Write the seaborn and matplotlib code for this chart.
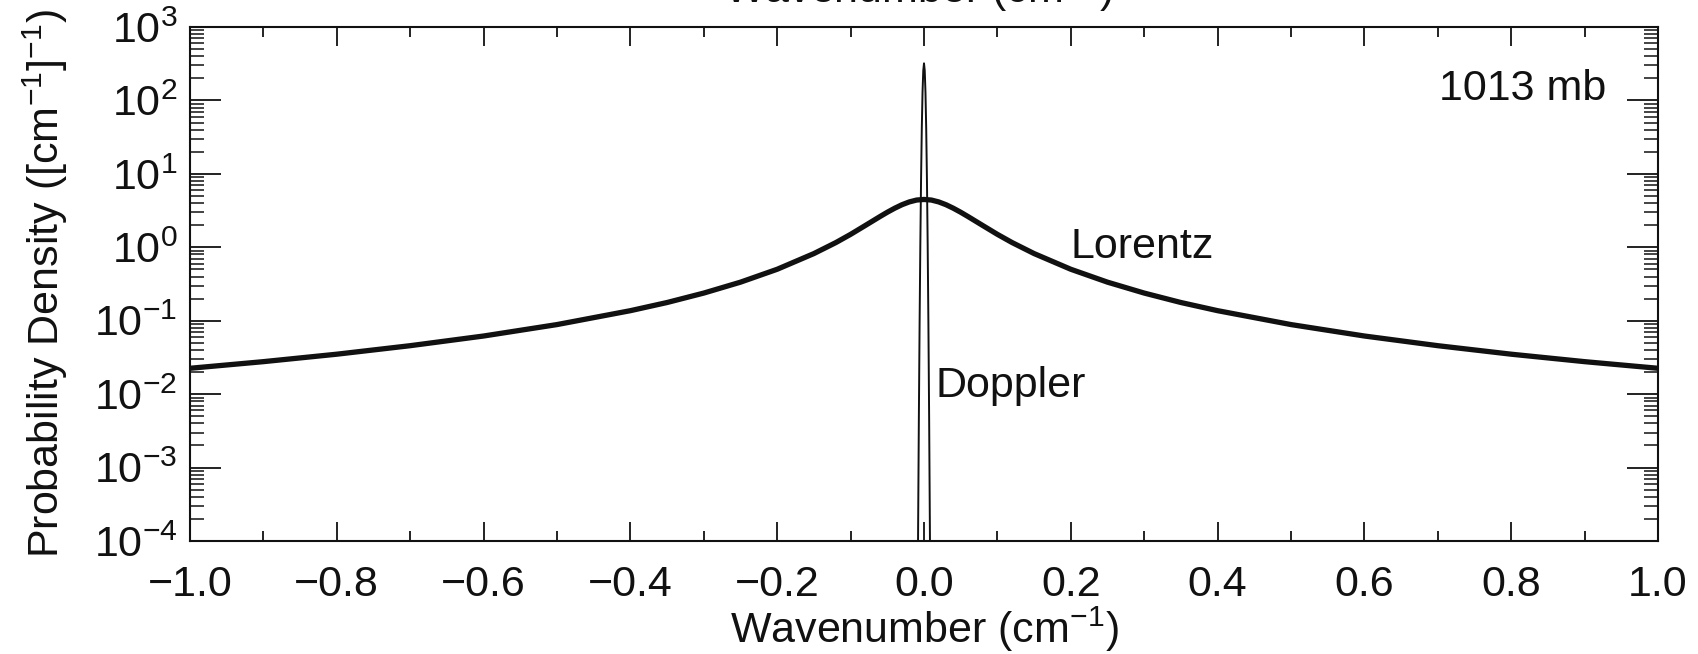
import numpy as np
import pandas as pd
import seaborn as sns
import matplotlib
matplotlib.use('Agg')
import matplotlib.pyplot as plt
from matplotlib.ticker import MultipleLocator, LogLocator, NullFormatter

# Line shape profiles at 1013 mb
lorentz_x = [-1.0, -0.9, -0.8, -0.7, -0.6, -0.5, -0.4, -0.35, -0.3, -0.25, -0.2,
             -0.15, -0.12, -0.1, -0.08, -0.06, -0.05, -0.04, -0.03, -0.02, -0.01,
             0.0, 0.01, 0.02, 0.03, 0.04, 0.05, 0.06, 0.08, 0.1, 0.12, 0.15,
             0.2, 0.25, 0.3, 0.35, 0.4, 0.5, 0.6, 0.7, 0.8, 0.9, 1.0]
lorentz_y = [0.0225, 0.0277, 0.0350, 0.0457, 0.0619, 0.0886, 0.137, 0.177, 0.238, 0.335, 0.502,
             0.821, 1.16, 1.50, 1.98, 2.62, 3.00, 3.40, 3.80, 4.15, 4.40,
             4.48, 4.40, 4.15, 3.80, 3.40, 3.00, 2.62, 1.98, 1.50, 1.16, 0.821,
             0.502, 0.335, 0.238, 0.177, 0.137, 0.0886, 0.0619, 0.0457, 0.0350, 0.0277, 0.0225]

doppler_x = [-0.009, -0.008, -0.007, -0.006, -0.005, -0.004, -0.003, -0.002, -0.001, 0.0,
             0.001, 0.002, 0.003, 0.004, 0.005, 0.006, 0.007, 0.008, 0.009]
doppler_y = [3.4e-6, 1.59e-4, 4.77e-3, 0.0912, 1.10, 8.5, 41.6, 129.0, 255.0, 320.0,
             255.0, 129.0, 41.6, 8.5, 1.10, 0.0912, 4.77e-3, 1.59e-4, 3.4e-6]

x_ticks = [-1.0, -0.8, -0.6, -0.4, -0.2, 0.0, 0.2, 0.4, 0.6, 0.8, 1.0]
x_tick_labels = ['\u22121.0', '\u22120.8', '\u22120.6', '\u22120.4', '\u22120.2',
                 '0.0', '0.2', '0.4', '0.6', '0.8', '1.0']

lorentz = pd.DataFrame({'x': lorentz_x, 'y': lorentz_y})
doppler = pd.DataFrame({'x': doppler_x, 'y': doppler_y})

sns.set_theme(style='white')
plt.rcParams['font.family'] = ['Liberation Sans', 'DejaVu Sans']
plt.rcParams['mathtext.fontset'] = 'custom'
plt.rcParams['mathtext.rm'] = 'Liberation Sans'
plt.rcParams['mathtext.it'] = 'Liberation Sans:italic'
plt.rcParams['text.color'] = '#111111'
plt.rcParams['axes.labelcolor'] = '#111111'
plt.rcParams['xtick.color'] = '#111111'
plt.rcParams['ytick.color'] = '#111111'

FS = 31

fig = plt.figure(figsize=(16.98, 6.54), dpi=100)
ax = fig.add_axes([190 / 1698, 113 / 654, 1468 / 1698, 514 / 654])

sns.lineplot(data=lorentz, x='x', y='y', color='#111111', linewidth=3.8,
             estimator=None, sort=False, ax=ax)
sns.lineplot(data=doppler, x='x', y='y', color='#111111', linewidth=1.4,
             estimator=None, sort=False, ax=ax)

ax.set_yscale('log')
ax.set_xlim(-1.0, 1.0)
ax.set_ylim(1e-4, 1e3)

ax.set_xticks(x_ticks)
ax.set_xticklabels(x_tick_labels)
ax.xaxis.set_minor_locator(MultipleLocator(0.1))
ax.yaxis.set_major_locator(LogLocator(base=10, numticks=20))
ax.yaxis.set_minor_locator(LogLocator(base=10, subs=np.arange(2, 10), numticks=20))
ax.yaxis.set_minor_formatter(NullFormatter())

ax.tick_params(axis='both', which='both', direction='in', top=True, right=True,
               bottom=True, left=True)
ax.tick_params(axis='x', which='major', length=14, width=1.3, pad=17, labelsize=FS)
ax.tick_params(axis='x', which='minor', length=7, width=1.3)
ax.tick_params(axis='y', which='major', length=22, width=1.3, pad=9, labelsize=FS)
ax.tick_params(axis='y', which='minor', length=10, width=1.1)

for s in ax.spines.values():
    s.set_linewidth(1.5)
    s.set_color('#111111')

ax.set_xlabel('Wavenumber (cm$^{-1}$)', fontsize=FS, labelpad=0)
ax.set_ylabel('Probability Density ([cm$^{-1}$]$^{-1}$)', fontsize=FS, labelpad=17)

ax.text(0.929, 100, '1013 mb', ha='right', va='baseline', fontsize=FS)
ax.text(0.20, 0.72, 'Lorentz', ha='left', va='baseline', fontsize=FS)
ax.text(0.015, 0.0092, 'Doppler', ha='left', va='baseline', fontsize=FS)

# top axis title, mostly cut off by the page edge
fig.text(918 / 1698, 1 - 3 / 654, 'Wavenumber (cm$^{-1}$)', ha='center', va='baseline',
         fontsize=FS)

fig.savefig('out.png', dpi=100, facecolor='white')
